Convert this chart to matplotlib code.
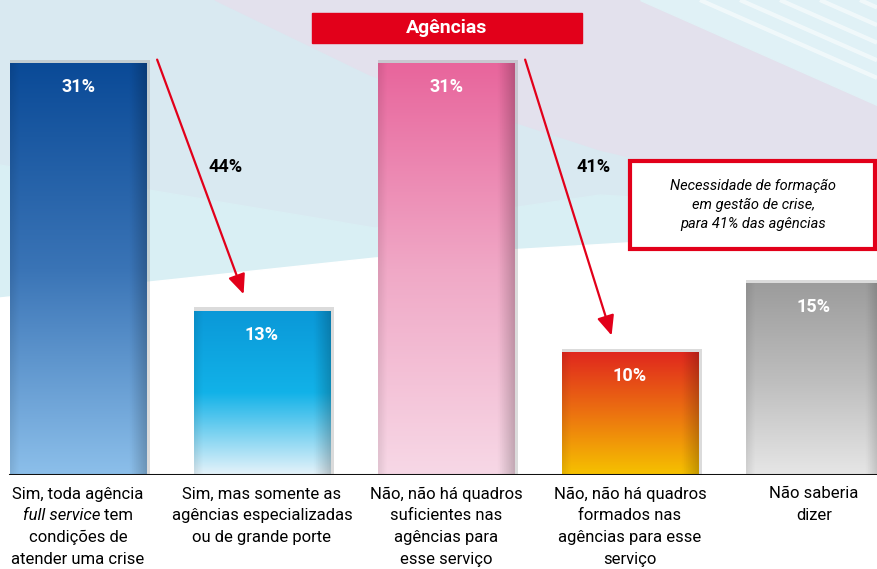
import numpy as np
import matplotlib.pyplot as plt
from matplotlib.patches import Rectangle, Polygon
from matplotlib.colors import LinearSegmentedColormap

plt.rcParams['font.family'] = ['Roboto', 'DejaVu Sans']

# data (text between underscores is set in italics)
categories = [
    "Sim, toda agência\n_full service_ tem\ncondições de\natender uma crise",
    "Sim, mas somente as\nagências especializadas\nou de grande porte",
    "Não, não há quadros\nsuficientes nas\nagências para\nesse serviço",
    "Não, não há quadros\nformados nas\nagências para esse\nserviço",
    "Não saberia\ndizer",
]
values = [31, 13, 31, 10, 15]
value_labels = ["31%", "13%", "31%", "10%", "15%"]
gradients = [
    ["#0a4a97", "#3a74b6", "#8cbfea"],
    ["#0a98d8", "#12b2e8", "#e6f3fa"],
    ["#e8659c", "#f0a8c6", "#f7d8e6"],
    ["#e0261e", "#ec7210", "#f6c200"],
    ["#9c9c9c", "#bdbdbd", "#e6e6e6"],
]
# sums shown between pairs of bars
pairs = [(0, 1, "44%"), (2, 3, "41%")]
title = "Agências"
note = "Necessidade de formação\nem gestão de crise,\npara 41% das agências"

RED = "#e2001a"
W, H = 877, 569
PT = 0.72  # points per pixel at 100 dpi

fig = plt.figure(figsize=(W / 100, H / 100), dpi=100)

# background swooshes, in pixel coordinates
bg = fig.add_axes([0, 0, 1, 1], zorder=0)
bg.set_xlim(0, W)
bg.set_ylim(H, 0)
bg.axis("off")
bg.add_patch(Rectangle((0, 0), W, H, color="#d9e9f1", zorder=0))
bg.add_patch(Polygon([(215, 0), (640, 0), (877, 105), (877, 215),
                      (600, 150), (370, 75)], color="#e3e1ed", zorder=1))
bg.add_patch(Polygon([(640, 0), (877, 0), (877, 105)], color="#e0f1f6", zorder=1))
for k in range(5):
    xs = 700 + k * 40
    bg.plot([xs, 877], [0, (877 - xs) * 0.44], color="white", lw=3,
            alpha=0.55, solid_capstyle="butt", zorder=1)
bg.add_patch(Polygon([(0, 165), (375, 228), (600, 195), (877, 212), (877, 232),
                      (375, 258), (0, 300)], color="#d9eff4", zorder=1))
bg.add_patch(Polygon([(0, 298), (150, 282), (375, 258), (877, 228),
                      (877, H), (0, H)], color="white", zorder=2))

# title box
bg.add_patch(Rectangle((312, 13), 270, 30, color=RED, zorder=5))
bg.text(447, 28, title, color="white", fontsize=14, fontweight="bold",
        ha="center", va="center", zorder=6)

# note box
bg.add_patch(Rectangle((630, 161), 245, 88, facecolor="white", edgecolor=RED,
                       lw=3, zorder=5))
bg.text(753, 205, note, fontsize=10.5, style="italic", ha="center", va="center",
        linespacing=1.45, zorder=6)

# bar chart
ax = fig.add_axes([0, 94 / H, 1, 475 / H], zorder=1)
ax.patch.set_alpha(0)
x = np.arange(len(values))
width = 0.74
y0 = 1.06

# soft shadow above and right of each bar
ax.bar(x + 0.01, np.array(values) + 0.25, width=width + 0.02, color="#8a8a8a",
       alpha=0.3, zorder=1)

bars = ax.bar(x, values, width=width, color="none", zorder=2)
u = np.linspace(0, 1, 64)
shade = 1 - 0.2 * np.clip((u - 0.88) / 0.12, 0, 1) - 0.08 * np.clip((0.06 - u) / 0.06, 0, 1)
for b, v, cols in zip(bars, values, gradients):
    cmap = LinearSegmentedColormap.from_list("g", cols)
    t = np.linspace(0, 1, 256)
    rgb = cmap(t)[:, :3]
    img = rgb[:, None, :] * shade[None, :, None]
    im = ax.imshow(img, extent=(b.get_x(), b.get_x() + b.get_width(), y0, v),
                   aspect="auto", origin="upper", zorder=2)
    im.set_clip_path(b)

for xi, v, lab in zip(x, values, value_labels):
    ax.text(xi, v - 1.75, lab, color="white", fontsize=13, fontweight="bold",
            ha="center", va="center", zorder=4)

# arrows between bar pairs
for a, b, lab in pairs:
    start = (a + 0.43, values[a] + 0.25)
    end = (b - 0.1, values[b] + 1.2)
    ax.annotate("", xy=end, xytext=start, zorder=5,
                arrowprops=dict(arrowstyle="-|>,head_length=0.8,head_width=0.35",
                                color=RED, lw=1.6, mutation_scale=15,
                                shrinkA=0, shrinkB=0))
    ax.text(a + 0.8, 23.45, lab, fontsize=13, fontweight="bold",
            ha="center", va="center", zorder=5)

ax.axhline(y0, xmin=10 / W, xmax=1, color="#111111", lw=2.2, zorder=6)

ax.set_xlim(-78 / 184, (W - 78) / 184)
ax.set_ylim(y0, y0 + 475 / 13.76)
ax.axis("off")

# category labels, one line at a time
renderer = fig.canvas.get_renderer()
for xi, cat in zip(x, categories):
    for j, line in enumerate(cat.split("\n")):
        dy = -(19 + j * 21.7) * PT
        if "_" not in line:
            ax.annotate(line, xy=(xi, y0), xytext=(0, dy), textcoords="offset points",
                        fontsize=12, ha="center", va="center")
            continue
        _, ital, rest = line.split("_")
        parts = [(ital, "italic"), (rest, "normal")]
        texts = [ax.annotate(s, xy=(xi, y0), xytext=(0, dy), textcoords="offset points",
                             fontsize=12, style=st, ha="left", va="center")
                 for s, st in parts]
        widths = [t.get_window_extent(renderer).width for t in texts]
        left = -sum(widths) / 2
        for t, w in zip(texts, widths):
            t.set_position((left * PT, dy))
            left += w

fig.savefig("out.png", dpi=100)
